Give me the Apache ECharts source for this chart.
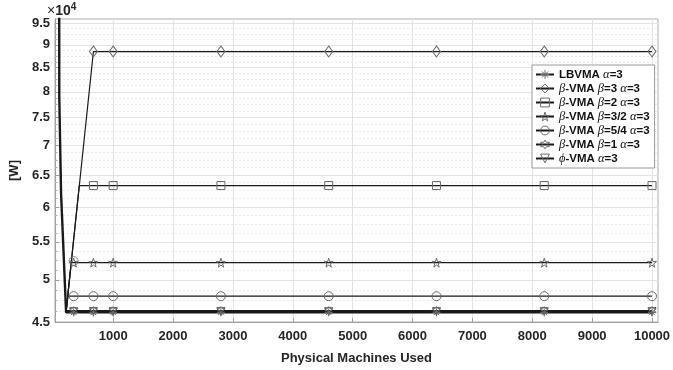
<!DOCTYPE html>
<html>
<head>
<meta charset="utf-8">
<script src="https://cdn.jsdelivr.net/npm/echarts@6/dist/echarts.min.js"></script>
<style>html,body{margin:0;padding:0;background:#fff}#c{width:673px;height:370px}</style>
</head>
<body>
<div id="c"></div>
<script>
// ---- data ----
const xTicks = [1000, 2000, 3000, 4000, 5000, 6000, 7000, 8000, 9000, 10000];
const yTicks = [45000, 50000, 55000, 60000, 65000, 70000, 75000, 80000, 85000, 90000, 95000];
const yMinorTicks = [46250, 47500, 48750, 51250, 52500, 53750, 56250, 57500, 58750, 61250, 62500, 63750,
  66250, 67500, 68750, 71250, 72500, 73750, 76250, 77500, 78750, 81250, 82500, 83750,
  86250, 87500, 88750, 91250, 92500, 93750];
const markerX = [340, 670, 1000, 2800, 4600, 6400, 8200, 10000];

const seriesNames = ['LBVMA α=3', 'β-VMA β=3 α=3', 'β-VMA β=2 α=3', 'β-VMA β=3/2 α=3',
  'β-VMA β=5/4 α=3', 'β-VMA β=1 α=3', 'ϕ-VMA α=3'];

const lbvmaX = [98, 100, 130, 214, 340, 670, 1000, 2800, 4600, 6400, 8200, 10000];
const lbvmaY = [120000, 79000, 62000, 46100, 46100, 46100, 46100, 46100, 46100, 46100, 46100, 46100];
const beta3X = [214, 670, 1000, 2800, 4600, 6400, 8200, 10000];
const beta3Y = [46200, 88500, 88500, 88500, 88500, 88500, 88500, 88500];
const beta2X = [214, 434, 670, 1000, 2800, 4600, 6400, 8200, 10000];
const beta2Y = [46200, 63300, 63300, 63300, 63300, 63300, 63300, 63300, 63300];
const beta32X = [214, 300, 340, 670, 1000, 2800, 4600, 6400, 8200, 10000];
const beta32Y = [46200, 52200, 52200, 52200, 52200, 52200, 52200, 52200, 52200, 52200];
const beta54X = [214, 245, 340, 670, 1000, 2800, 4600, 6400, 8200, 10000];
const beta54Y = [46200, 48000, 48000, 48000, 48000, 48000, 48000, 48000, 48000, 48000];
const beta1X = [214, 340, 670, 1000, 2800, 4600, 6400, 8200, 10000];
const beta1Y = [46300, 46300, 46300, 46300, 46300, 46300, 46300, 46300, 46300];
const phiX = [214, 340, 670, 1000, 2800, 4600, 6400, 8200, 10000];
const phiY = [46200, 46200, 46200, 46200, 46200, 46200, 46200, 46200, 46200];
const extraCircleX = [340];
const extraCircleY = [52400];

// ---- symbols ----
const SYM = {
  star: 'path://M50,0L50,100M0,50L100,50M15,15L85,85M85,15L15,85',
  diamond: 'diamond',
  square: 'rect',
  penta: 'path://M50,0L61,35L98,35L68,57L79,91L50,70L21,91L32,57L2,35L39,35Z',
  circle: 'circle',
  hexa: 'path://M50,0L64,25L93,25L78,50L93,75L64,75L50,100L36,75L7,75L22,50L7,25L36,25Z',
  tri: 'path://M0,0L100,0L50,90Z'
};

function build(xs, ys) {
  const mk = new Set(markerX);
  return xs.map((x, i) => mk.has(x) ? { value: [x, ys[i]] } : { value: [x, ys[i]], symbol: 'none' });
}

const markStyle = { color: 'rgba(255,255,255,0)', borderColor: '#6a6a6a', borderWidth: 1 };

function lineSeries(name, xs, ys, sym, size, width, z) {
  return {
    type: 'line', name: name, data: build(xs, ys),
    symbol: sym, symbolSize: size, showAllSymbol: true,
    lineStyle: { color: '#1a1a1a', width: width },
    itemStyle: markStyle,
    emphasis: { disabled: true }, animation: false, z: z, clip: true
  };
}

const series = [
  lineSeries(seriesNames[0], lbvmaX, lbvmaY, SYM.star, 8, 2.4, 9),
  lineSeries(seriesNames[1], beta3X, beta3Y, SYM.diamond, [8, 11], 1.2, 3),
  lineSeries(seriesNames[2], beta2X, beta2Y, SYM.square, 8, 1.2, 3),
  lineSeries(seriesNames[3], beta32X, beta32Y, SYM.penta, 9, 1.2, 3),
  lineSeries(seriesNames[4], beta54X, beta54Y, SYM.circle, 9, 1.2, 3),
  lineSeries(seriesNames[5], beta1X, beta1Y, SYM.hexa, 8, 1.2, 3),
  lineSeries(seriesNames[6], phiX, phiY, SYM.tri, 8, 1.2, 3),
  {
    type: 'scatter', name: 'extra', data: extraCircleX.map((x, i) => [x, extraCircleY[i]]),
    symbol: 'circle', symbolSize: 9, animation: false, z: 4,
    itemStyle: markStyle
  }
];

const greekMap = { 'α': 'g', 'β': 'g', 'ϕ': 'g' };
function legendFmt(name) {
  let out = '';
  for (const ch of name) {
    if (greekMap[ch]) out += '{g|' + ch + '}';
    else out += '{b|' + ch + '}';
  }
  return out;
}

const chart = echarts.init(document.getElementById('c'), null, { renderer: 'canvas' });
chart.setOption({
  backgroundColor: '#ffffff',
  animation: false,
  grid: { left: 47, right: 14, top: 19, bottom: 42, show: true, borderColor: '#b0b0b0', borderWidth: 1, backgroundColor: 'transparent' },
  xAxis: {
    type: 'value', min: 28, max: 10100,
    name: 'Physical Machines Used', nameLocation: 'middle', nameGap: 30,
    nameTextStyle: { fontFamily: 'Liberation Sans', fontWeight: 'bold', fontSize: 13, color: '#262626' },
    axisLine: { show: true, lineStyle: { color: '#a0a0a0', width: 1 } },
    axisTick: { show: true, inside: true, length: 4, customValues: xTicks, lineStyle: { color: '#a0a0a0' } },
    axisLabel: { customValues: xTicks, formatter: v => String(v), fontFamily: 'Liberation Sans', fontWeight: 'bold', fontSize: 13, color: '#262626', margin: 8 },
    splitLine: { show: true, lineStyle: { color: '#e3e3e3', width: 1 } }
  },
  yAxis: [{
    type: 'log', min: 45000, max: 96000, logBase: 10,
    name: '[W]', nameLocation: 'middle', nameGap: 26, nameRotate: 90,
    nameTextStyle: { fontFamily: 'Liberation Sans', fontWeight: 'bold', fontSize: 13, color: '#262626' },
    axisLine: { show: true, lineStyle: { color: '#a0a0a0', width: 1 } },
    axisTick: { show: true, inside: true, length: 4, customValues: yTicks, lineStyle: { color: '#a0a0a0' } },
    axisLabel: { customValues: yTicks, formatter: v => String(Math.round(v / 1000) / 10),
      fontFamily: 'Liberation Sans', fontWeight: 'bold', fontSize: 13, color: '#262626', margin: 5 },
    splitLine: { show: true, lineStyle: { color: '#e3e3e3', width: 1 } }
  }, {
    type: 'log', min: 45000, max: 96000, logBase: 10, position: 'left',
    axisLine: { show: false },
    axisTick: { show: true, inside: true, length: 2.5, customValues: yMinorTicks, lineStyle: { color: '#b0b0b0' } },
    axisLabel: { show: false, customValues: yMinorTicks },
    splitLine: { show: true, lineStyle: { color: '#ececec', width: 1, type: [2, 2] } }
  }],
  legend: {
    data: seriesNames, orient: 'vertical', left: 532, top: 65,
    itemWidth: 18, itemHeight: 11, itemGap: 1, padding: [3, 5, 3, 3],
    backgroundColor: '#ffffff', borderColor: '#9a9a9a', borderWidth: 1,
    itemStyle: markStyle,
    formatter: legendFmt,
    textStyle: {
      rich: {
        b: { fontFamily: 'Liberation Sans', fontWeight: 'bold', fontSize: 11.5, color: '#111', lineHeight: 12.5 },
        g: { fontFamily: 'Liberation Serif', fontStyle: 'italic', fontSize: 12.5, color: '#111', lineHeight: 12.5 }
      }
    }
  },
  graphic: [{
    type: 'text', left: 47, top: 2,
    style: {
      text: '{a|×}{b|10}{c|4}',
      rich: {
        a: { fontFamily: 'Liberation Sans', fontSize: 14, fill: '#262626' },
        b: { fontFamily: 'Liberation Sans', fontWeight: 'bold', fontSize: 14, fill: '#262626' },
        c: { fontFamily: 'Liberation Sans', fontWeight: 'bold', fontSize: 10, fill: '#262626', verticalAlign: 'top', padding: [0, 0, 8, 0] }
      }
    }
  }],
  series: series
});
</script>
</body>
</html>
